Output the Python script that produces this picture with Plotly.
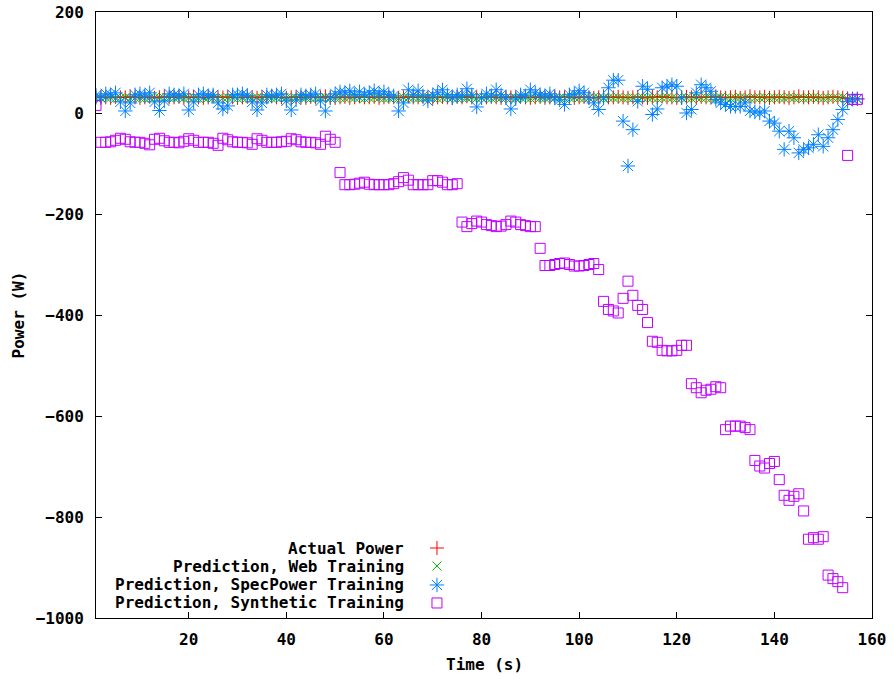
import plotly.graph_objects as go

# Sample times (s)
time_s = list(range(1, 158))

# Measured power (W)
actual_power = [
    31, 32, 31, 30, 32, 31, 31, 33, 31, 30,
    31, 32, 30, 31, 33, 31, 31, 32, 30, 31,
    32, 31, 30, 31, 33, 31, 31, 32, 31, 30,
    31, 32, 31, 30, 32, 31, 33, 31, 31, 30,
    31, 32, 31, 30, 32, 31, 31, 33, 31, 30,
    31, 32, 30, 31, 33, 31, 31, 32, 30, 31,
    32, 31, 30, 31, 33, 31, 31, 32, 31, 30,
    31, 32, 31, 30, 32, 31, 33, 31, 31, 30,
    31, 32, 31, 30, 32, 31, 31, 33, 31, 30,
    31, 32, 30, 31, 33, 31, 31, 32, 30, 31,
    32, 31, 30, 31, 33, 31, 31, 32, 31, 30,
    31, 32, 31, 30, 32, 31, 33, 31, 31, 30,
    31, 32, 31, 30, 32, 31, 31, 33, 31, 30,
    31, 32, 30, 31, 33, 31, 31, 32, 30, 31,
    32, 31, 30, 31, 33, 31, 31, 32, 31, 30,
    31, 32, 31, 30, 29, 28, 28,
]

# Model trained on web workload
web_training = [
    30, 29, 31, 30, 29, 30, 31, 29, 30, 30,
    29, 30, 31, 30, 29, 30, 30, 31, 29, 30,
    30, 29, 31, 30, 30, 29, 30, 31, 30, 29,
    30, 30, 29, 31, 30, 30, 29, 30, 31, 30,
    29, 30, 31, 30, 29, 30, 30, 31, 29, 30,
    30, 29, 31, 30, 30, 29, 30, 31, 30, 29,
    30, 30, 29, 31, 30, 30, 29, 30, 31, 30,
    29, 30, 31, 30, 29, 30, 30, 31, 29, 30,
    30, 29, 31, 30, 30, 29, 30, 31, 30, 29,
    30, 30, 29, 31, 30, 30, 29, 30, 31, 30,
    29, 30, 31, 30, 29, 30, 30, 31, 29, 30,
    30, 29, 31, 30, 30, 29, 30, 31, 30, 29,
    30, 30, 29, 31, 30, 30, 29, 30, 31, 30,
    29, 30, 31, 30, 29, 30, 30, 31, 29, 30,
    30, 29, 31, 30, 30, 29, 30, 31, 30, 29,
    30, 30, 29, 31, 28, 28, 28,
]

# Model trained on SpecPower
specpower_training = [
    35, 30, 38, 36, 40, 22, 4, 20, 36, 38,
    34, 40, 22, 5, 24, 38, 36, 34, 38, 6,
    22, 36, 38, 34, 36, 20, 8, 14, 36, 36,
    38, 35, 22, 6, 20, 36, 34, 36, 38, 24,
    6, 26, 36, 34, 36, 38, 24, 4, 30, 38,
    42, 40, 44, 36, 42, 36, 40, 44, 38, 42,
    36, 34, 4, 20, 46, 36, 44, 34, 24, 36,
    40, 46, 36, 30, 36, 34, 48, 36, 12, 30,
    38, 34, 46, 36, 30, 8, 28, 36, 34, 46,
    40, 36, 34, 38, 30, 26, 17, 36, 38, 44,
    40, 30, 20, 7, 30, 50, 65, 65, -16, -105,
    -33, 23, 53, 47, -3, 8, 50, 53, 56, 53,
    30, 0, 7, 40, 56, 50, 43, 27, 20, 17,
    13, 13, 13, 20, 4, 2, 0, 4, -16, -20,
    -36, -72, -36, -49, -79, -72, -69, -62, -43, -66,
    -49, -33, -13, 7, 23, 28, 28,
]

# Model trained on synthetic workload
synthetic_training = [
    15,
    -58, -58, -57, -54, -50, -52, -57, -58, -58, -60,
    -63, -52, -50, -55, -58, -58, -59, -56, -51, -54,
    -58, -58, -58, -60, -64, -50, -53, -57, -58, -58,
    -59, -62, -51, -54, -58, -58, -58, -57, -56, -51,
    -53, -57, -58, -58, -59, -62, -46, -52, -58,
    -118,
    -142, -142, -141, -139, -137, -141, -142, -142, -142, -142,
    -140, -136, -128, -133, -142, -142, -142, -142, -134, -134,
    -137, -142, -142, -140,
    -216, -225, -219, -214, -216, -221, -223, -225, -224, -221,
    -214, -216, -221, -223, -225, -225,
    -268,
    -302, -302, -300, -298, -297, -300, -303, -303, -302, -300,
    -298, -310,
    -373, -389, -392, -396, -367, -333, -361, -381, -389, -415,
    -452, -454, -470, -471, -471, -470, -460, -460,
    -536, -544, -554, -549, -547, -542, -544,
    -627, -620, -620, -620, -623, -627,
    -688, -699, -703, -694, -690,
    -726,
    -757, -767, -759, -754,
    -788,
    -844, -841, -844, -839,
    -915, -922, -928, -940,
    -84, 27, 27,
]

for series in (actual_power, web_training, specpower_training, synthetic_training):
    assert len(series) == len(time_s), len(series)

series_names = [
    "Actual Power",
    "Prediction, Web Training",
    "Prediction, SpecPower Training",
    "Prediction, Synthetic Training",
]
series_colors = ["#ff0000", "#00c000", "#0080ff", "#c000ff"]
series_symbols = ["cross-thin-open", "x-thin-open", "asterisk-open", "square-open"]
series_sizes = [10, 9, 12, 10]

x_ticks = [20, 40, 60, 80, 100, 120, 140, 160]
y_ticks = [-1000, -800, -600, -400, -200, 0, 200]

FONT = "DejaVu Sans Mono"
FONT_SIZE = 16
fig = go.Figure()

for name, values, color, symbol, size in zip(
    series_names,
    [actual_power, web_training, specpower_training, synthetic_training],
    series_colors, series_symbols, series_sizes,
):
    fig.add_trace(go.Scatter(
        x=time_s, y=values, mode="markers", name=name, showlegend=False,
        marker=dict(symbol=symbol, size=size, color=color,
                    line=dict(color=color, width=1)),
    ))

# Key in the lower-left corner: right-aligned text with the symbol after it
key_rows_y = [0.1155, 0.0858, 0.0545, 0.0248]
for name, color, symbol, size, ky in zip(series_names, series_colors,
                                         series_symbols, series_sizes, key_rows_y):
    fig.add_trace(go.Scatter(
        x=[0.4394], y=[ky], xaxis="x2", yaxis="y2", mode="markers",
        showlegend=False, hoverinfo="skip",
        marker=dict(symbol=symbol, size=size, color=color,
                    line=dict(color=color, width=1)),
    ))
    fig.add_annotation(
        x=0.399, y=ky, xref="paper", yref="paper", text=name, showarrow=False,
        xanchor="right", yanchor="middle",
        font=dict(family=FONT, size=FONT_SIZE, color="black", weight="bold"),
    )

axis_common = dict(
    showline=True, linecolor="black", linewidth=1, mirror="ticks",
    ticks="inside", ticklen=6, tickcolor="black", tickwidth=1,
    showgrid=False, zeroline=False, automargin=False,
    tickfont=dict(family=FONT, size=FONT_SIZE, color="black", weight="bold"),
)

fig.update_layout(
    width=894, height=679,
    margin=dict(l=96, r=22, t=12, b=61),
    paper_bgcolor="white", plot_bgcolor="white",
    xaxis=dict(range=[1, 160], tickvals=x_ticks, ticklabelstandoff=7, **axis_common),
    yaxis=dict(range=[-1000, 200], tickvals=y_ticks, ticklabelstandoff=8, **axis_common),
    xaxis2=dict(range=[0, 1], overlaying="x", visible=False, fixedrange=True),
    yaxis2=dict(range=[0, 1], overlaying="y", visible=False, fixedrange=True),
)

fig.add_annotation(
    x=0.5, y=-0.077, xref="paper", yref="paper", text="Time (s)", showarrow=False,
    xanchor="center", yanchor="middle",
    font=dict(family=FONT, size=FONT_SIZE, color="black", weight="bold"),
)
fig.add_annotation(
    x=-0.1, y=0.5, xref="paper", yref="paper", text="Power (W)", showarrow=False,
    textangle=-90, xanchor="center", yanchor="middle",
    font=dict(family=FONT, size=FONT_SIZE, color="black", weight="bold"),
)

fig.write_html("out.html")
